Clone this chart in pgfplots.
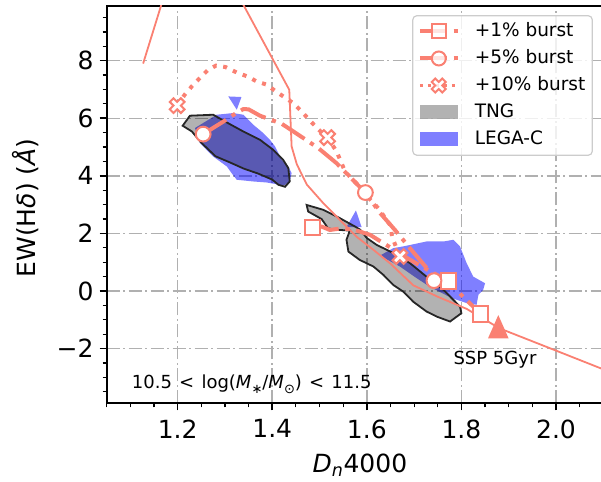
\documentclass[border=0pt]{standalone}
\usepackage{fontspec}
\setmainfont{DejaVu Sans}
\usepackage{pgfplots}
\pgfplotsset{compat=1.18}
\definecolor{salmon}{HTML}{FA8072}
\definecolor{gridgray}{HTML}{B0B0B0}
\definecolor{legframe}{HTML}{CCCCCC}

\pgfdeclareplotmark{xfill}{%
  \pgfpathmoveto{\pgfpoint{0.5*\pgfplotmarksize}{-1*\pgfplotmarksize}}%
  \pgfpathlineto{\pgfpoint{1*\pgfplotmarksize}{-0.5*\pgfplotmarksize}}%
  \pgfpathlineto{\pgfpoint{0.5*\pgfplotmarksize}{0pt}}%
  \pgfpathlineto{\pgfpoint{1*\pgfplotmarksize}{0.5*\pgfplotmarksize}}%
  \pgfpathlineto{\pgfpoint{0.5*\pgfplotmarksize}{1*\pgfplotmarksize}}%
  \pgfpathlineto{\pgfpoint{0pt}{0.5*\pgfplotmarksize}}%
  \pgfpathlineto{\pgfpoint{-0.5*\pgfplotmarksize}{1*\pgfplotmarksize}}%
  \pgfpathlineto{\pgfpoint{-1*\pgfplotmarksize}{0.5*\pgfplotmarksize}}%
  \pgfpathlineto{\pgfpoint{-0.5*\pgfplotmarksize}{0pt}}%
  \pgfpathlineto{\pgfpoint{-1*\pgfplotmarksize}{-0.5*\pgfplotmarksize}}%
  \pgfpathlineto{\pgfpoint{-0.5*\pgfplotmarksize}{-1*\pgfplotmarksize}}%
  \pgfpathlineto{\pgfpoint{0pt}{-0.5*\pgfplotmarksize}}%
  \pgfpathclose
  \pgfusepathqfillstroke
}
\pgfdeclareplotmark{mtri}{%
  \pgfpathmoveto{\pgfpoint{0pt}{1.13*\pgfplotmarksize}}%
  \pgfpathlineto{\pgfpoint{-1*\pgfplotmarksize}{-1.13*\pgfplotmarksize}}%
  \pgfpathlineto{\pgfpoint{1*\pgfplotmarksize}{-1.13*\pgfplotmarksize}}%
  \pgfpathclose
  \pgfusepathqfill
}

\begin{document}
\begin{tikzpicture}
\begin{axis}[
  scale only axis, width=496.6pt, height=397.3pt,
  xmin=1.05, xmax=2.1, ymin=-3.9, ymax=9.9,
  xtick={1.2,1.4,1.6,1.8,2.0}, xticklabels={1.2,1.4,1.6,1.8,2.0},
  ytick={-2,0,2,4,6,8}, yticklabels={−2,0,2,4,6,8},
  minor xtick={1.05,1.1,1.15,1.25,1.3,1.35,1.45,1.5,1.55,1.65,1.7,1.75,1.85,1.9,1.95,2.05,2.1},
  minor ytick={-3.5,-3,-2.5,-1.5,-1,-0.5,0.5,1,1.5,2.5,3,3.5,4.5,5,5.5,6.5,7,7.5,8.5,9,9.5},
  xtick pos=bottom, ytick pos=left, tick align=outside,
  major tick length=7pt, minor tick length=4pt,
  every tick/.style={black, line width=1.6pt},
  every minor tick/.append style={line width=1.2pt},
  axis line style={line width=2pt},
  grid=major,
  major grid style={color=gridgray, line width=1.5pt, dash pattern=on 13.3pt off 3.3pt on 2.1pt off 3.3pt},
  tick label style={font=\fontsize{25}{30}\selectfont, inner sep=0pt},
  xticklabel style={yshift=-9pt},
  yticklabel style={xshift=-6pt},
  label style={font=\fontsize{25}{30}\selectfont},
  xlabel={\textit{D}\textsubscript{\textit{n}}4000},
  ylabel={EW(H\textit{δ}) (\textit{Å})},
  xlabel style={at={(axis description cs:0.51,-0.1754)}, anchor=base, inner sep=0pt},
  ylabel style={at={(axis description cs:-0.1625,0.4916)}, anchor=center, inner sep=0pt},
  legend image code/.code={\draw[mark repeat=2,mark phase=2,#1] plot coordinates {(0pt,0pt)(19pt,0pt)(38pt,0pt)};},
  legend style={at={(0.979,0.977)}, anchor=north east, draw=legframe, line width=1.2pt,
    rounded corners=4pt, fill=white, fill opacity=0.8, text opacity=1,
    font=\fontsize{18.5}{22}\selectfont, inner sep=5pt, row sep=5.5pt,
    nodes={inner sep=2pt, text height=13.5pt, text depth=4pt},
    /tikz/every odd column/.append style={column sep=13pt}},
  legend cell align=left,
]
% LEGA-C
\addplot[fill=blue, fill opacity=0.5, draw=none, forget plot] coordinates {
(1.2366,5.661)(1.2825,6.123)(1.3175,6.182)(1.3387,6.123)(1.360,5.775)(1.381,5.487)(1.395,5.254)(1.406,5.021)(1.420,4.559)(1.434,4.326)(1.441,4.097)(1.437,3.805)(1.427,3.690)(1.416,3.690)(1.388,3.770)(1.360,3.805)(1.325,3.864)(1.314,4.097)(1.304,4.326)(1.275,4.673)(1.247,5.14)} -- cycle;
\addplot[fill=blue, fill opacity=0.5, draw=none, forget plot] coordinates {
(1.307,6.759)(1.335,6.738)(1.325,6.297)} -- cycle;
\addplot[fill=blue, fill opacity=0.5, draw=none, forget plot] coordinates {
(1.631,1.26)(1.656,1.49)(1.677,1.55)(1.726,1.72)(1.762,1.72)(1.783,1.78)(1.797,1.55)(1.811,0.97)(1.825,0.50)(1.850,0.27)(1.846,0.04)(1.836,-0.13)(1.832,-0.48)(1.811,-0.42)(1.78,-0.25)(1.733,0.15)(1.705,0.45)(1.670,0.85)(1.631,1.2)} -- cycle;
\addplot[fill=blue, fill opacity=0.5, draw=none, forget plot] coordinates {
(1.577,2.80)(1.589,2.22)(1.557,2.22)} -- cycle;
% TNG
\addplot[fill=black, fill opacity=0.3, draw=black!85, line width=1.8pt, forget plot] coordinates {
(1.2106,5.74)(1.226,6.09)(1.2753,6.123)(1.300,5.890)(1.339,5.54)(1.374,5.254)(1.402,4.907)(1.423,4.559)(1.434,4.270)(1.437,3.805)(1.427,3.62)(1.413,3.69)(1.40,3.87)(1.37,4.08)(1.34,4.25)(1.31,4.47)(1.28,4.68)(1.25,5.15)(1.230,5.543)} -- cycle;
\addplot[fill=black, fill opacity=0.3, draw=black!85, line width=1.8pt, forget plot] coordinates {
(1.4727,2.99)(1.508,2.82)(1.543,2.53)(1.575,2.24)(1.586,2.13)(1.60,1.84)(1.621,1.60)(1.656,1.32)(1.691,0.97)(1.726,0.50)(1.762,0.04)(1.797,-0.54)(1.80,-0.77)(1.776,-1.06)(1.748,-0.89)(1.726,-0.71)(1.698,-0.37)(1.677,-0.02)(1.656,0.21)(1.635,0.56)(1.614,0.85)(1.585,1.08)(1.561,1.37)(1.557,1.78)(1.564,2.10)(1.5326,2.13)(1.518,2.18)(1.5044,2.50)(1.476,2.76)} -- cycle;
% SSP track
\addplot[salmon, line width=1.8pt, forget plot] coordinates {
(1.127,7.9)(1.176,10.5)(1.320,10.5)(1.340,9.91)(1.436,6.99)(1.441,5.02)(1.452,4.4)(1.473,3.7)(1.508,3.05)(1.543,2.47)(1.578,1.89)(1.614,1.43)(1.65,0.95)(1.698,0.2)(1.75,-0.2)(1.811,-0.62)(1.881,-1.3)(2.0,-2.07)(2.12,-2.85)};
% +1% burst
\addplot[salmon, line width=4pt, dash pattern=on 27pt off 6.7pt on 4.2pt off 6.7pt, forget plot] coordinates {
(1.485,2.21)(1.504,2.24)(1.522,2.12)(1.547,2.18)(1.575,2.12)(1.607,1.95)(1.652,1.49)(1.69,1.10)(1.73,0.72)(1.772,0.35)(1.80,-0.14)(1.841,-0.80)};
\addplot[only marks, mark=square*, mark size=7.6pt, mark options={fill=white, draw=salmon, line width=2pt, solid}, forget plot] coordinates {
(1.485,2.21)(1.772,0.35)(1.841,-0.80)};
% +5% burst
\addplot[salmon, line width=4pt, dash pattern=on 27pt off 6.7pt on 4.2pt off 6.7pt, forget plot] coordinates {
(1.254,5.45)(1.299,5.91)(1.318,6.12)(1.339,6.32)(1.350,6.31)(1.374,6.09)(1.42,5.81)(1.466,5.31)(1.497,4.97)(1.536,4.44)(1.565,3.95)(1.597,3.42)(1.628,2.71)(1.659,2.13)(1.688,1.55)(1.727,0.79)(1.742,0.36)};
\addplot[only marks, mark=*, mark size=7.4pt, mark options={fill=white, draw=salmon, line width=2pt, solid}, forget plot] coordinates {
(1.254,5.45)(1.597,3.42)(1.742,0.36)};
% +10% burst
\addplot[salmon, line width=4pt, dash pattern=on 4pt off 6.6pt, forget plot] coordinates {
(1.199,6.44)(1.215,6.82)(1.230,7.11)(1.247,7.40)(1.263,7.66)(1.281,7.83)(1.301,7.78)(1.325,7.59)(1.348,7.45)(1.367,7.28)(1.388,7.17)(1.408,6.93)(1.427,6.72)(1.444,6.53)(1.462,6.24)(1.478,5.95)(1.497,5.62)(1.517,5.33)(1.536,4.85)(1.554,4.15)(1.58,3.7)(1.60,3.3)(1.624,2.88)(1.649,2.30)(1.654,1.84)(1.663,1.49)(1.670,1.20)};
\addplot[only marks, mark=xfill, mark size=7.4pt, mark options={fill=white, draw=salmon, line width=2pt, solid}, forget plot] coordinates {
(1.199,6.44)(1.517,5.33)(1.670,1.20)};
% SSP 5Gyr
\addplot[only marks, mark=mtri, mark size=10.3pt, mark options={fill=salmon, draw=none}, forget plot] coordinates {(1.878,-1.24)};

\node[anchor=base, inner sep=0pt, font=\fontsize{18}{21}\selectfont] at (axis cs:1.871,-2.54) {SSP 5Gyr};
\node[anchor=base west, inner sep=0pt, font=\fontsize{18}{21}\selectfont] at (axis cs:1.103,-3.37) {10.5\hspace{0.4em}<\hspace{0.4em}log(\textit{M}\raisebox{-0.3em}{\fontsize{13}{13}\selectfont ∗}/\textit{M}\raisebox{-0.3em}{\fontsize{13}{13}\selectfont ⊙})\hspace{0.4em}<\hspace{0.4em}11.5};

% legend
\addlegendimage{salmon, line width=4pt, dash pattern=on 27pt off 6.7pt on 4.2pt off 6.7pt, mark=square*, mark size=7pt, mark options={solid, fill=white, draw=salmon, line width=2pt}}
\addlegendentry{+1\% burst}
\addlegendimage{salmon, line width=4pt, dash pattern=on 27pt off 6.7pt on 4.2pt off 6.7pt, mark=*, mark size=7pt, mark options={solid, fill=white, draw=salmon, line width=2pt}}
\addlegendentry{+5\% burst}
\addlegendimage{salmon, line width=3pt, dash pattern=on 3pt off 5pt, mark=xfill, mark size=7pt, mark options={solid, fill=white, draw=salmon, line width=2pt}}
\addlegendentry{+10\% burst}
\addlegendimage{legend image code/.code={\fill[draw=none, sharp corners, black, fill opacity=0.3] (0pt,-7pt) rectangle (38pt,7pt);}}
\addlegendentry{TNG}
\addlegendimage{legend image code/.code={\fill[draw=none, sharp corners, blue, fill opacity=0.5] (0pt,-7pt) rectangle (38pt,7pt);}}
\addlegendentry{LEGA-C}
\end{axis}
\pgfresetboundingbox
\path[use as bounding box] (-106.7pt,-77.7pt) rectangle (494.3pt,403.3pt);
\end{tikzpicture}
\end{document}
